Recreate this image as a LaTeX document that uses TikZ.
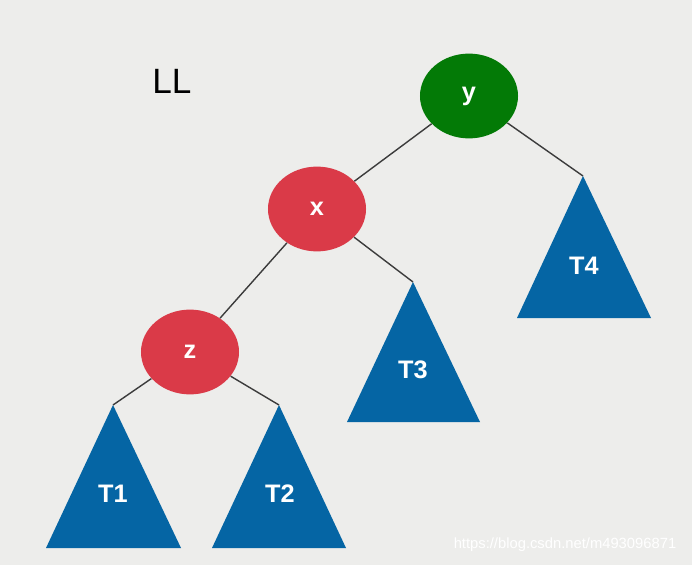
\documentclass[tikz,border=0pt]{standalone}
\usepackage{fontspec}
\setmainfont{Liberation Sans}
\usetikzlibrary{shapes.geometric}

\definecolor{bgGray}{HTML}{EDEDEB}
\definecolor{rootGreen}{HTML}{037A06}
\definecolor{keyRed}{HTML}{DA3A48}
\definecolor{treeBlue}{HTML}{0565A4}
\definecolor{lineGray}{HTML}{3C3C3C}

\begin{document}
\begin{tikzpicture}[x=0.025cm, y=-0.025cm,
    keynode/.style={ellipse, minimum width=2.45cm, minimum height=2.12cm,
      inner sep=0pt, text=white, font=\bfseries\fontsize{18}{20}\selectfont},
    subtree/.style={text=white, font=\bfseries\fontsize{18}{20}\selectfont},
    link/.style={draw=lineGray, line width=1pt}]
  \fill[bgGray] (0,0) rectangle (692,565);
  \useasboundingbox (0,0) rectangle (692,565);

  \node[font=\fontsize{25}{28}\selectfont] (case) at (172,81) {LL};

  % the three keys
  \node[keynode, fill=rootGreen] (y) at (469,96) {y};
  \node[keynode, fill=keyRed] (x) at (317,209) {x};
  \node[keynode, fill=keyRed] (z) at (190,352) {z};

  % tips of the subtrees
  \coordinate (t1top) at (113,405);
  \coordinate (t2top) at (279,405);
  \coordinate (t3top) at (413,282);
  \coordinate (t4top) at (583,176);

  \draw[link] (y) -- (x);
  \draw[link] (y) -- (t4top);
  \draw[link] (x) -- (z);
  \draw[link] (x) -- (t3top);
  \draw[link] (z) -- (t1top);
  \draw[link] (z) -- (t2top);

  \fill[treeBlue] (t1top) -- (181,548) -- (46,548) -- cycle;
  \fill[treeBlue] (t2top) -- (346,548) -- (212,548) -- cycle;
  \fill[treeBlue] (t3top) -- (480,422) -- (347,422) -- cycle;
  \fill[treeBlue] (t4top) -- (651,318) -- (517,318) -- cycle;
  \node[subtree] (t1) at (113,494) {T1};
  \node[subtree] (t2) at (280,494) {T2};
  \node[subtree] (t3) at (413,370) {T3};
  \node[subtree] (t4) at (584,266) {T4};

  \node[text=white, font=\fontsize{10.5}{12}\selectfont] (mark) at (565,545)
    {https://blog.csdn.net/m493096871};
\end{tikzpicture}
\end{document}
